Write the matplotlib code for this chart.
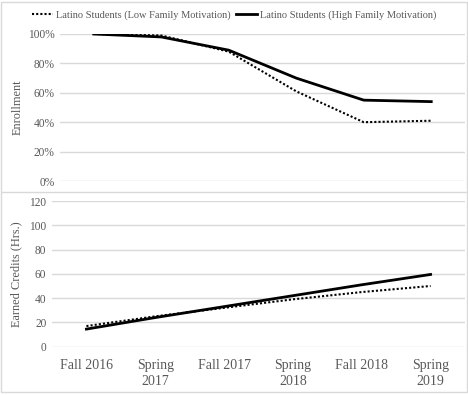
import matplotlib
matplotlib.use("Agg")
import matplotlib.pyplot as plt
from matplotlib.patches import Rectangle
from matplotlib.lines import Line2D

terms = ["Fall 2016", "Spring\n2017", "Fall 2017", "Spring\n2018", "Fall 2018", "Spring\n2019"]
enroll_low = [100, 99, 88, 61, 40, 41]
enroll_high = [100, 98, 89, 70, 55, 54]
credits_low = [17, 25, 32, 39, 45, 50]
credits_high = [14.5, 24, 33, 42, 51, 59.5]
labels = ["Latino Students (Low Family Motivation)", "Latino Students (High Family Motivation)"]

plt.rcParams['font.family'] = ['Liberation Serif', 'DejaVu Serif']
grid_c = "#d9d9d9"
tick_c = "#595959"

fig = plt.figure(figsize=(4.68, 3.95), dpi=100)

ax1 = fig.add_axes([60/468, 1-181/395, 405/468, 147/395])
ax2 = fig.add_axes([52/468, 1-346.7/395, 413/468, 145.7/395])

x = range(len(terms))
dot = (0, (1, 1))

ax1.plot(x, enroll_low, color="black", lw=1.5, ls=dot)
ax1.plot(x, enroll_high, color="black", lw=2)
ax1.set_ylim(0, 100)
ax1.set_yticks(range(0, 101, 20))
ax1.set_yticklabels([f"{v}%" for v in range(0, 101, 20)])
ax1.set_ylabel("Enrollment", fontsize=8.8, color=tick_c, labelpad=3)

ax2.plot(x, credits_low, color="black", lw=1.5, ls=dot)
ax2.plot(x, credits_high, color="black", lw=2)
ax2.set_ylim(0, 120)
ax2.set_yticks(range(0, 121, 20))
ax2.set_ylabel("Earned Credits (Hrs.)", fontsize=8.8, color=tick_c, labelpad=5)
ax2.set_xticks(list(x))
ax2.set_xticklabels(terms, fontsize=10, color=tick_c, linespacing=1.3)

for ax in (ax1, ax2):
    ax.set_xlim(-0.5, len(terms) - 0.5)
    for s in ax.spines.values():
        s.set_visible(False)
    ax.grid(axis="y", color=grid_c, lw=1)
    ax.set_axisbelow(True)
    ax.tick_params(length=0, labelsize=8.3, labelcolor=tick_c, pad=4)
ax1.set_xticks([])
ax2.tick_params(axis="x", labelsize=10, pad=9)

handles = [Line2D([], [], color="black", lw=1.5, ls=dot),
           Line2D([], [], color="black", lw=2)]
fig.legend(handles, labels, loc="center", bbox_to_anchor=(0.5, 1-15/395), ncol=2,
           frameon=False, fontsize=7.5, handlelength=2.0, handletextpad=0.3,
           columnspacing=0.5, labelcolor=tick_c)

# panel separator and outer border
fig.add_artist(Line2D([2/468, 466/468], [1-192/395, 1-192/395], color=grid_c, lw=1))
fig.add_artist(Rectangle((1/468, 1-392/395), 466/468, 390/395, fill=False, ec=grid_c, lw=1))

fig.savefig("out.png", dpi=100)
